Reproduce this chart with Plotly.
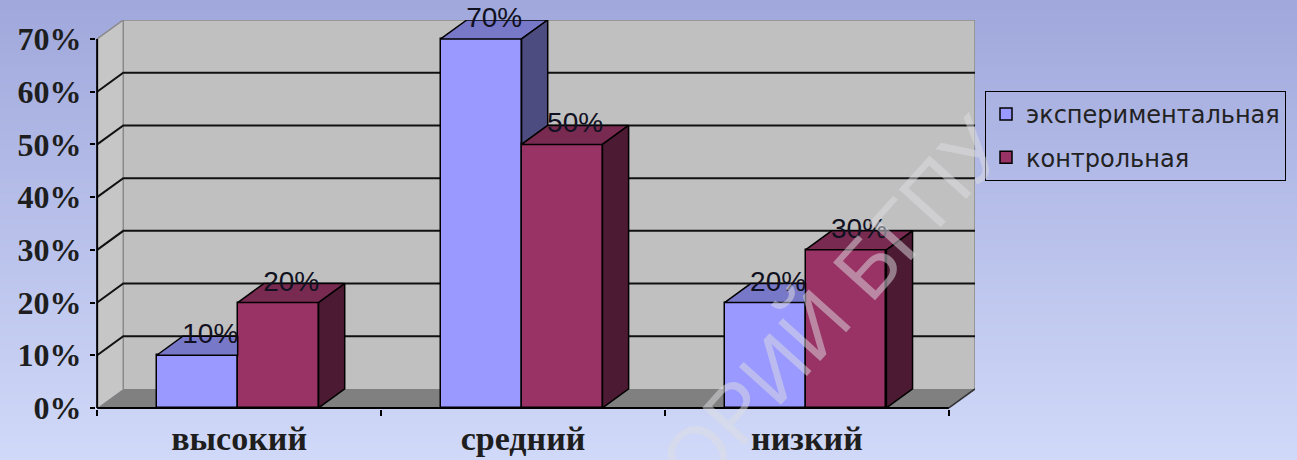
import plotly.graph_objects as go

# ---------------- data ----------------
categories = ["высокий", "средний", "низкий"]
series_names = ["экспериментальная", "контрольная"]
exp_values = [10, 70, 20]
ctrl_values = [20, 50, 30]
y_tick_values = [0, 10, 20, 30, 40, 50, 60, 70]
y_tick_labels = ["0%", "10%", "20%", "30%", "40%", "50%", "60%", "70%"]
watermark_text = "РЕПОЗИТОРИЙ БГПУ"

# ---------------- style ----------------
DX, DY = 0.092, 3.6          # 3-D depth offset (x units, y units)
BAR_W = 0.285
EXP_OFF = 0.21
Y_MAX = max(y_tick_values)
N = len(categories)

EXP_FRONT, EXP_TOP, EXP_SIDE = "#9999ff", "#7878c8", "#4c4c80"
CTRL_FRONT, CTRL_TOP, CTRL_SIDE = "#993366", "#782a50", "#4c1a33"
WALL, LWALL, FLOOR = "#c0c0c0", "#c6c6c6", "#808080"

W, H = 1297, 460
ML, MR, MT, MB = 96, 322, 20, 51
PW, PH = W - ML - MR, H - MT - MB

fig = go.Figure()

# ---------- background gradient ----------
top_c = (160, 168, 220)
bot_c = (208, 217, 248)
n_strips = 92
sh = H / n_strips
for k in range(n_strips):
    f = k / (n_strips - 1)
    col = tuple(round(top_c[j] + (bot_c[j] - top_c[j]) * f) for j in range(3))
    ytop = k * sh
    ybot = (k + 1) * sh
    fig.add_shape(type="rect", xref="paper", yref="paper",
                  x0=-ML / PW - 0.01, x1=1 + MR / PW + 0.01,
                  y0=(H - MB - ybot) / PH - 0.002, y1=(H - MB - ytop) / PH + 0.002,
                  fillcolor="rgb(%d,%d,%d)" % col, line_width=0, layer="below")


def path(pts, close=True):
    s = "M " + " L ".join("%f,%f" % p for p in pts)
    return s + (" Z" if close else "")


X_END = N
# ---------- walls and floor ----------
fig.add_shape(type="path", xref="x", yref="y", layer="below", line_width=0, fillcolor=WALL,
              path=path([(DX, DY), (X_END + DX, DY), (X_END + DX, Y_MAX + DY), (DX, Y_MAX + DY)]))
fig.add_shape(type="path", xref="x", yref="y", layer="below", line_width=0, fillcolor=LWALL,
              path=path([(0, 0), (0, Y_MAX), (DX, Y_MAX + DY), (DX, DY)]))
fig.add_shape(type="path", xref="x", yref="y", layer="below", line_width=0, fillcolor=FLOOR,
              path=path([(0, 0), (X_END, 0), (X_END + DX, DY), (DX, DY)]))
# wall edges
for pts in [[(DX, DY), (DX, Y_MAX + DY)],
            [(0, Y_MAX), (DX, Y_MAX + DY), (X_END + DX, Y_MAX + DY)],
            [(X_END + DX, DY), (X_END + DX, Y_MAX + DY)]]:
    fig.add_shape(type="path", xref="x", yref="y", layer="below",
                  line=dict(color="#8a8a8a", width=1.5), path=path(pts, close=False))
fig.add_shape(type="path", xref="x", yref="y", layer="below",
              line=dict(color="#333333", width=1.5), path=path([(X_END, 0), (X_END + DX, DY)], close=False))
# gridlines (back wall + side wall)
for t in y_tick_values[1:-1]:
    fig.add_shape(type="path", xref="x", yref="y", layer="below",
                  line=dict(color="#111111", width=2),
                  path=path([(0, t), (DX, t + DY), (X_END + DX, t + DY)], close=False))
# axis lines
fig.add_shape(type="line", xref="x", yref="y", layer="below", x0=0, x1=0, y0=0, y1=Y_MAX,
              line=dict(color="#000000", width=2))
fig.add_shape(type="line", xref="x", yref="y", layer="below", x0=0, x1=X_END, y0=0, y1=0,
              line=dict(color="#000000", width=2))

# ---------- bar front faces ----------
exp_x = [i + EXP_OFF + BAR_W / 2 for i in range(N)]
ctrl_x = [i + EXP_OFF + BAR_W * 1.5 for i in range(N)]
fig.add_trace(go.Bar(x=exp_x, y=exp_values, width=BAR_W, name=series_names[0],
                     marker=dict(color=EXP_FRONT, line=dict(color="#000000", width=1.5)),
                     legendgroup="a", hoverinfo="skip"))
fig.add_trace(go.Bar(x=ctrl_x, y=ctrl_values, width=BAR_W, name=series_names[1],
                     marker=dict(color=CTRL_FRONT, line=dict(color="#000000", width=1.5)),
                     legendgroup="b", hoverinfo="skip"))


def face(pts, color):
    pts = pts + [pts[0]]
    fig.add_trace(go.Scatter(x=[p[0] for p in pts], y=[p[1] for p in pts], mode="lines",
                             fill="toself", fillcolor=color,
                             line=dict(color="#000000", width=1.5),
                             showlegend=False, hoverinfo="skip"))


for i in range(N):
    x0 = i + EXP_OFF
    x1 = x0 + BAR_W
    x2 = x1 + BAR_W
    v1, v2 = exp_values[i], ctrl_values[i]
    if v2 > v1:
        face([(x0, v1), (x1, v1), (x1, v1 + DY), (x0 + DX, v1 + DY)], EXP_TOP)
    else:
        face([(x0, v1), (x1, v1), (x1 + DX, v1 + DY), (x0 + DX, v1 + DY)], EXP_TOP)
        if v1 > v2:
            face([(x1, v2), (x1, v1), (x1 + DX, v1 + DY), (x1 + DX, v2 + DY)], EXP_SIDE)
    face([(x1, v2), (x2, v2), (x2 + DX, v2 + DY), (x1 + DX, v2 + DY)], CTRL_TOP)
    face([(x2, 0), (x2, v2), (x2 + DX, v2 + DY), (x2 + DX, DY)], CTRL_SIDE)

# ---------- data labels ----------
lab_x = [x + DX / 2 for x in exp_x] + [x + DX / 2 for x in ctrl_x]
lab_y = [v + DY for v in exp_values] + [v + DY for v in ctrl_values]
lab_t = ["%d%%" % v for v in exp_values] + ["%d%%" % v for v in ctrl_values]
fig.add_trace(go.Scatter(x=lab_x, y=lab_y, text=lab_t, mode="text", textposition="middle center",
                         textfont=dict(family="Liberation Sans, Arial", size=28, color="#111122"),
                         showlegend=False, hoverinfo="skip", cliponaxis=False))

# ---------- watermark ----------
fig.add_annotation(text=watermark_text, xref="paper", yref="paper",
                   x=(703 - ML) / PW, y=(H - MB - 448) / PH,
                   xanchor="center", yanchor="middle", showarrow=False, textangle=-48,
                   font=dict(family="Liberation Sans, Arial", size=82, color="rgba(222,222,226,0.5)"))

fig.update_layout(
    width=W, height=H,
    margin=dict(l=ML, r=MR, t=MT, b=MB, pad=0, autoexpand=False),
    paper_bgcolor="#c0c8ec", plot_bgcolor="rgba(0,0,0,0)",
    bargap=0, barmode="overlay",
    showlegend=True,
    legend=dict(xref="container", yref="container", x=985 / W, y=1 - 91 / H,
                xanchor="left", yanchor="top", bgcolor="rgba(0,0,0,0)",
                bordercolor="#000000", borderwidth=1,
                font=dict(family="DejaVu Sans", size=24, color="#222222"),
                traceorder="grouped", tracegroupgap=9),
    xaxis=dict(range=[-0.004, X_END + DX], showgrid=False, zeroline=False, showline=False,
               automargin=False,
               tickmode="array", tickvals=[i + 0.5 for i in range(N)], ticktext=categories,
               ticks="", ticklabelstandoff=6,
               tickfont=dict(family="Liberation Serif", size=34, color="#1e1e1e", weight="bold"),
               minor=dict(tickmode="array", tickvals=list(range(N + 1)), ticks="outside",
                          ticklen=6, tickcolor="#000000", tickwidth=1.5, showgrid=False)),
    yaxis=dict(range=[-0.2, Y_MAX + DY], showgrid=False, zeroline=False, showline=False,
               automargin=False,
               tickmode="array", tickvals=y_tick_values, ticktext=y_tick_labels,
               ticks="outside", ticklen=5, tickcolor="#000000", tickwidth=1.5,
               ticklabelstandoff=2,
               tickfont=dict(family="Liberation Serif", size=32, color="#1e1e1e", weight="bold")),
)

fig.write_html("out.html",
               config={"displayModeBar": False},
               post_script="document.body.style.margin='0';document.body.style.padding='0';"
                           "document.body.style.overflow='hidden';")
